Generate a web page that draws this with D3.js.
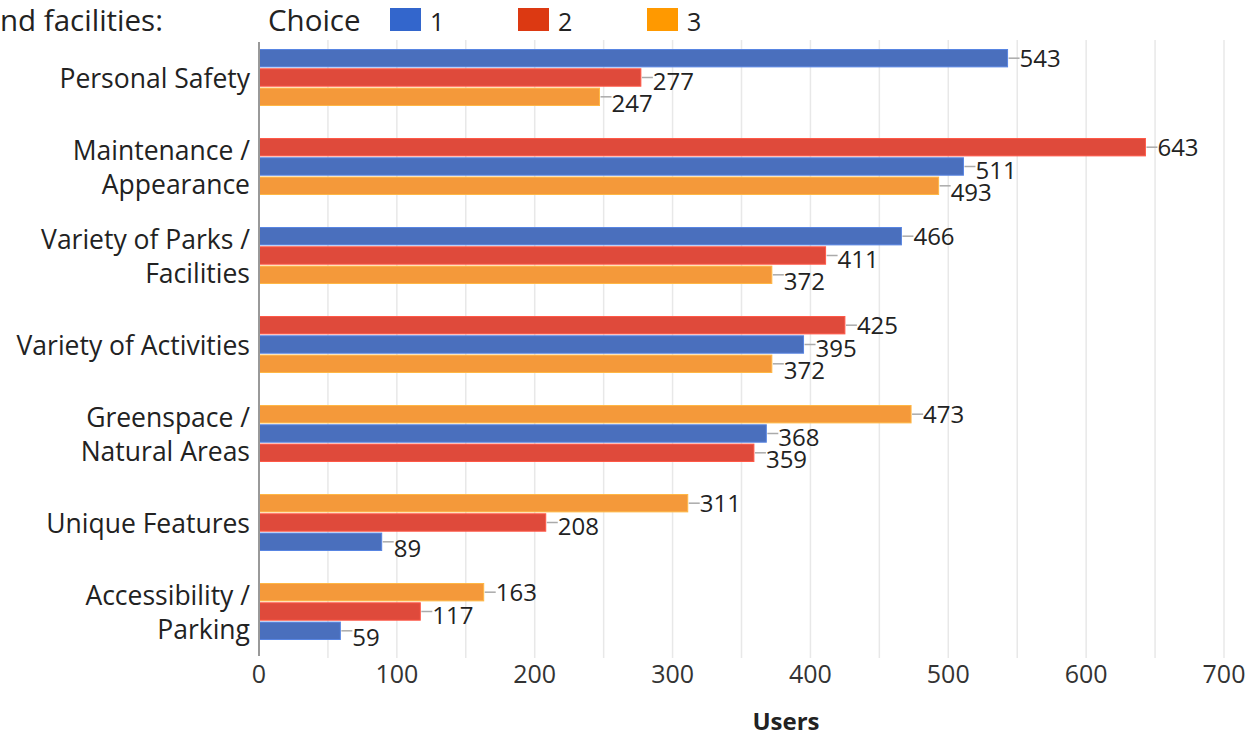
<!DOCTYPE html>
<html>
<head>
<meta charset="utf-8">
<script src="https://cdn.jsdelivr.net/npm/d3@7"></script>
<style>
  html, body { margin: 0; padding: 0; background: #fff; overflow: hidden; }
  text { font-family: "Open Sans", "Noto Sans", sans-serif; }
</style>
</head>
<body>
<svg id="chart" width="1257" height="736"></svg>
<script>
const categories = [
  "Personal Safety",
  "Maintenance / Appearance",
  "Variety of Parks / Facilities",
  "Variety of Activities",
  "Greenspace / Natural Areas",
  "Unique Features",
  "Accessibility / Parking"
];
const categoryLines = [
  ["Personal Safety"],
  ["Maintenance /", "Appearance"],
  ["Variety of Parks /", "Facilities"],
  ["Variety of Activities"],
  ["Greenspace /", "Natural Areas"],
  ["Unique Features"],
  ["Accessibility /", "Parking"]
];
const seriesNames = ["1", "2", "3"];
const choice1 = [543, 511, 466, 395, 368, 89, 59];
const choice2 = [277, 643, 411, 425, 359, 208, 117];
const choice3 = [247, 493, 372, 372, 473, 311, 163];
const xTicks = [0, 100, 200, 300, 400, 500, 600, 700];
const gridValues = [50, 100, 150, 200, 250, 300, 350, 400, 450, 500, 550, 600, 650, 700];
const legendTitle = "Choice";
const cutTitle = "nd facilities:";
const xTitle = "Users";

const barColors = ["#4a6fbd", "#df4a3b", "#f4993a"];
const legendColors = ["#3366cc", "#dc3912", "#ff9900"];

const svg = d3.select("#chart");
const x = d3.scaleLinear().domain([0, 700]).range([259, 1224]);
const y = d3.scaleBand().domain(categories).range([33, 656]).padding(0);

// gridlines
svg.append("g").selectAll("line").data(gridValues).join("line")
  .attr("x1", d => x(d)).attr("x2", d => x(d))
  .attr("y1", 40).attr("y2", 658)
  .attr("stroke", "#e8e8e8").attr("stroke-width", 1.5);

// x tick labels
svg.append("g").selectAll("text").data(xTicks).join("text")
  .attr("x", d => x(d)).attr("y", 683)
  .attr("text-anchor", "middle")
  .attr("font-size", 25).attr("fill", "#333")
  .text(d => d);

// axis title
svg.append("text").attr("x", 786).attr("y", 730)
  .attr("text-anchor", "middle").attr("font-size", 24).attr("font-weight", 700)
  .attr("fill", "#222").text(xTitle);

const series = [choice1, choice2, choice3];

categories.forEach((cat, i) => {
  const items = series.map((s, k) => ({ k, v: s[i] })).sort((a, b) => b.v - a.v);
  const c = y(cat) + y.bandwidth() / 2;
  const inner = d3.scaleBand().domain([0, 1, 2]).range([c - 28, c + 28]).paddingInner(0.1);
  const g = svg.append("g");
  g.selectAll("rect").data(items).join("rect")
    .attr("x", x(0))
    .attr("y", (d, j) => inner(j))
    .attr("width", d => x(d.v) - x(0))
    .attr("height", inner.bandwidth())
    .attr("fill", d => barColors[d.k])
    .attr("stroke", d => d3.color(barColors[d.k]).brighter(0.5))
    .attr("stroke-width", 1);
  g.selectAll("line.conn").data(items).join("line").attr("class", "conn")
    .attr("x1", d => x(d.v) + 1).attr("x2", d => x(d.v) + 12)
    .attr("y1", (d, j) => inner(j) + inner.bandwidth() / 2)
    .attr("y2", (d, j) => inner(j) + inner.bandwidth() / 2)
    .attr("stroke", "#aaa").attr("stroke-width", 1.5);
  g.selectAll("text.val").data(items).join("text").attr("class", "val")
    .attr("x", d => x(d.v) + 12)
    .attr("y", (d, j) => inner(j) + inner.bandwidth() / 2 + j * 3.5 + 8.5)
    .attr("font-size", 24).attr("fill", "#222")
    .text(d => d.v);

  const lines = categoryLines[i];
  const lh = 34;
  svg.append("g").selectAll("text").data(lines).join("text")
    .attr("x", 250)
    .attr("y", (d, j) => c + 10 + (j - (lines.length - 1) / 2) * lh)
    .attr("text-anchor", "end")
    .attr("font-size", 26.5).attr("fill", "#222")
    .text(d => d);
});

// left axis line
svg.append("line").attr("x1", x(0)).attr("x2", x(0)).attr("y1", 42).attr("y2", 656)
  .attr("stroke", "#999").attr("stroke-width", 2);

// top legend
svg.append("text").attr("x", 0).attr("y", 31).attr("font-size", 29.5).attr("fill", "#222").text(cutTitle);
svg.append("text").attr("x", 268).attr("y", 31).attr("font-size", 29.5).attr("fill", "#222").text(legendTitle);
const legendX = [390, 518, 647];
const lg = svg.append("g").selectAll("g").data(seriesNames).join("g")
  .attr("transform", (d, i) => `translate(${legendX[i]},8)`);
lg.append("rect").attr("width", 31).attr("height", 23).attr("fill", (d, i) => legendColors[i]);
lg.append("text").attr("x", 40).attr("y", 23).attr("font-size", 25).attr("fill", "#222").text(d => d);
</script>
</body>
</html>
